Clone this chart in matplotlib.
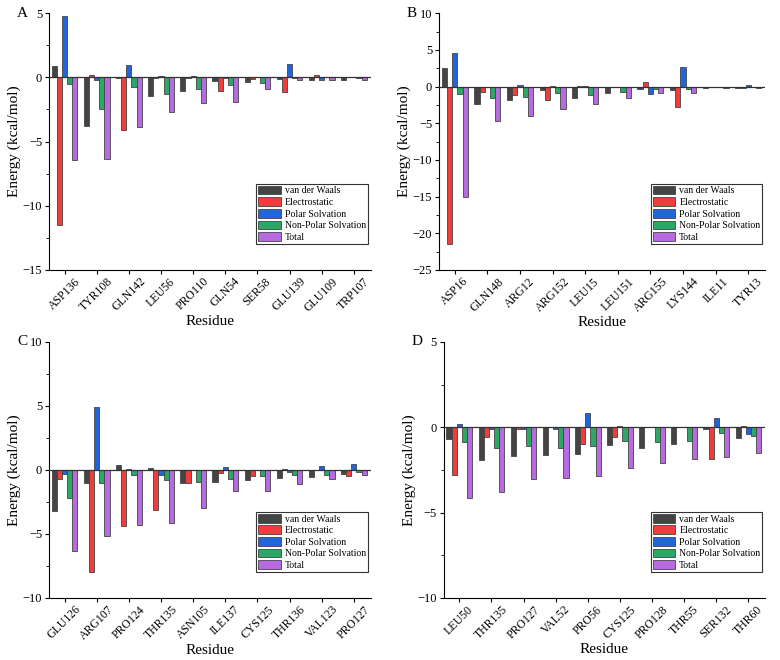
import numpy as np
import matplotlib
matplotlib.use('Agg')
import matplotlib.pyplot as plt

plt.rcParams['font.family'] = ['Liberation Serif', 'DejaVu Serif']

# energy terms, kcal/mol
terms = ['van der Waals', 'Electrostatic', 'Polar Solvation', 'Non-Polar Solvation', 'Total']
colours = ['#444444', '#f03c3c', '#1f66dc', '#2ca866', '#b86ae0']

# panel A
res_a = ['ASP136', 'TYR108', 'GLN142', 'LEU56', 'PRO110', 'GLN54', 'SER58', 'GLU139', 'GLU109', 'TRP107']
vdw_a = [0.85, -3.78, -0.05, -1.48, -1.04, -0.26, -0.33, -0.15, -0.18, -0.2]
ele_a = [-11.5, 0.15, -4.09, -0.05, -0.05, -1.06, -0.12, -1.11, 0.16, 0.02]
pol_a = [4.82, -0.2, 0.93, 0.1, 0.08, -0.05, 0.0, 1.06, -0.2, 0.0]
npo_a = [-0.52, -2.46, -0.73, -1.3, -0.9, -0.6, -0.44, -0.03, 0.0, -0.02]
tot_a = [-6.42, -6.35, -3.86, -2.67, -1.97, -1.89, -0.88, -0.21, -0.2, -0.2]

# panel B
res_b = ['ASP16', 'GLN148', 'ARG12', 'ARG152', 'LEU15', 'LEU151', 'ARG155', 'LYS144', 'ILE11', 'TYR13']
vdw_b = [2.55, -2.4, -1.8, -0.5, -1.5, -0.82, -0.36, -0.45, -0.2, -0.18]
ele_b = [-21.4, -0.73, -1.2, -1.77, 0.14, 0.0, 0.68, -2.77, 0.0, -0.23]
pol_b = [4.55, 0.0, 0.27, 0.14, 0.05, 0.0, -0.95, 2.6, 0.0, 0.18]
npo_b = [-0.95, -1.6, -1.4, -0.9, -1.14, -0.73, -0.32, -0.32, 0.0, 0.0]
tot_b = [-15.1, -4.7, -4.05, -3.0, -2.4, -1.6, -0.9, -0.9, -0.18, -0.2]

# panel C
res_c = ['GLU126', 'ARG107', 'PRO124', 'THR135', 'ASN105', 'ILE137', 'CYS125', 'THR136', 'VAL123', 'PRO127']
vdw_c = [-3.18, -1.04, 0.42, 0.18, -1.04, -0.91, -0.76, -0.65, -0.55, -0.31]
ele_c = [-0.7, -8.0, -4.4, -3.15, -1.0, -0.26, -0.44, 0.05, 0.0, -0.44]
pol_c = [-0.31, 4.92, 0.08, -0.39, 0.02, 0.21, 0.0, -0.13, 0.29, 0.44]
npo_c = [-2.19, -1.04, -0.42, -0.75, -0.94, -0.7, -0.44, -0.42, -0.39, -0.16]
tot_c = [-6.3, -5.13, -4.32, -4.14, -2.97, -1.64, -1.64, -1.12, -0.7, -0.42]

# panel D
res_d = ['LEU50', 'THR135', 'PRO127', 'VAL52', 'PRO56', 'CYS125', 'PRO128', 'THR55', 'SER132', 'THR60']
vdw_d = [-0.66, -1.9, -1.71, -1.65, -1.59, -1.05, -1.22, -1.01, -0.1, -0.62]
ele_d = [-2.82, -0.58, -0.1, 0.04, -0.97, -0.6, 0.0, 0.0, -1.84, 0.08]
pol_d = [0.21, -0.12, -0.12, -0.12, 0.82, 0.1, 0.0, 0.0, 0.54, -0.41]
npo_d = [-0.87, -1.2, -1.11, -1.24, -1.11, -0.82, -0.87, -0.78, -0.33, -0.52]
tot_d = [-4.16, -3.81, -3.01, -2.99, -2.85, -2.37, -2.1, -1.88, -1.73, -1.5]

panels = [
    ('A', res_a, [vdw_a, ele_a, pol_a, npo_a, tot_a], (-15, 5), [0.063, 0.591, 0.412, 0.389]),
    ('B', res_b, [vdw_b, ele_b, pol_b, npo_b, tot_b], (-25, 10), [0.563, 0.591, 0.418, 0.389]),
    ('C', res_c, [vdw_c, ele_c, pol_c, npo_c, tot_c], (-10, 10), [0.063, 0.094, 0.412, 0.388]),
    ('D', res_d, [vdw_d, ele_d, pol_d, npo_d, tot_d], (-10, 5), [0.569, 0.094, 0.412, 0.388]),
]

fig = plt.figure(figsize=(7.8, 6.6), dpi=100)
w = 0.16
for letter, res, series, ylim, pos in panels:
    ax = fig.add_axes(pos)
    x = np.arange(len(res))
    for i, vals in enumerate(series):
        ax.bar(x + (i - 2) * w, vals, w, color=colours[i], edgecolor='#444444',
               linewidth=0.6, label=terms[i], zorder=2)
    ax.axhline(0, color='#333333', lw=0.9, zorder=3)
    ax.set_xlim(-0.48, 9.52)
    ax.set_ylim(*ylim)
    ax.set_yticks(np.arange(ylim[0], ylim[1] + 1, 5))
    ax.set_yticks(np.arange(ylim[0], ylim[1] + 0.1, 2.5), minor=True)
    ax.set_xticks(x)
    ax.set_xticklabels(res, rotation=45, ha='center', fontsize=8.5)
    ax.tick_params(axis='y', labelsize=9, length=3, width=0.8, pad=2)
    ax.tick_params(axis='y', which='minor', length=2, width=0.6)
    ax.tick_params(axis='x', length=3, width=0.8, pad=1)
    ax.spines['top'].set_visible(False)
    ax.spines['right'].set_visible(False)
    ax.set_xlabel('Residue', fontsize=11, labelpad=1)
    ax.set_ylabel('Energy (kcal/mol)', fontsize=11, labelpad=1)
    ax.text(-0.1, 1.0, letter, transform=ax.transAxes, fontsize=11, va='center', ha='left')
    leg = ax.legend(loc='lower right', bbox_to_anchor=(1.0, 0.09), fontsize=7,
                    fancybox=False, edgecolor='#333333', framealpha=1,
                    handlelength=2.3, handleheight=1.0, labelspacing=0.2,
                    handletextpad=0.4, borderpad=0.2, borderaxespad=0.3)
    leg.get_frame().set_linewidth(0.8)

fig.savefig('out.png', dpi=100)
